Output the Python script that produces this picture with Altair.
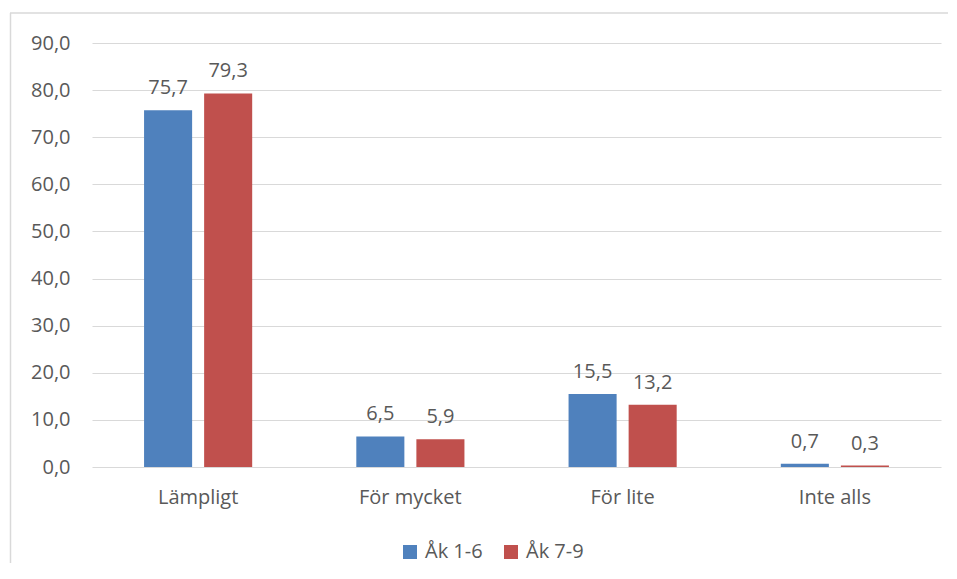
import altair as alt
import pandas as pd

categories = ["Lämpligt", "För mycket", "För lite", "Inte alls"]
series = ["Åk 1-6", "Åk 7-9"]
ak16 = [75.7, 6.5, 15.5, 0.7]
ak79 = [79.3, 5.9, 13.2, 0.3]
colors = ["#4F81BD", "#C0504D"]
y_ticks = [0, 10, 20, 30, 40, 50, 60, 70, 80, 90]

rows = []
for c, a, b in zip(categories, ak16, ak79):
    rows.append({"cat": c, "series": series[0], "value": a, "label": f"{a:.1f}".replace(".", ",")})
    rows.append({"cat": c, "series": series[1], "value": b, "label": f"{b:.1f}".replace(".", ",")})
df = pd.DataFrame(rows)

FONT = "Open Sans"
GRAY = "#595959"

x = alt.X("cat:N", sort=categories, title=None,
          scale=alt.Scale(paddingInner=0, paddingOuter=0),
          axis=alt.Axis(labelAngle=0, ticks=False, domain=False, labelPadding=20,
                        labelFontSize=20, labelFont=FONT, labelColor=GRAY))
xo = alt.XOffset("series:N", sort=series,
                 scale=alt.Scale(paddingInner=0.2, paddingOuter=0.8667))
y = alt.Y("value:Q", title=None,
          scale=alt.Scale(domain=[0, 90], nice=False),
          axis=alt.Axis(values=y_ticks, ticks=False, domain=False, labelPadding=22,
                        labelFontSize=20, labelFont=FONT, labelColor=GRAY,
                        gridColor="#d9d9d9", gridWidth=1,
                        labelExpr="replace(format(datum.value, '.1f'), '.', ',')"))
color = alt.Color("series:N", sort=series, title=None,
                  scale=alt.Scale(domain=series, range=colors),
                  legend=alt.Legend(orient="none", direction="horizontal", legendX=308, legendY=499,
                                    symbolType="square", symbolSize=196, symbolStrokeWidth=0,
                                    labelFontSize=20, labelFont=FONT, labelColor=GRAY,
                                    labelOffset=5, columnPadding=18, padding=0))

bars = alt.Chart(df).mark_bar().encode(x=x, xOffset=xo, y=y, color=color)
texts = alt.Chart(df).mark_text(baseline="bottom", dy=-12, fontSize=20, font=FONT, color=GRAY).encode(
    x=x, xOffset=xo, y=y, text="label:N")

frame = pd.DataFrame({"a": [0]})
border_left = alt.Chart(frame).mark_rule(color="#d9d9d9", strokeWidth=1.5).encode(
    x=alt.value(-81.5), y=alt.value(-30), y2=alt.value(560))
border_top = alt.Chart(frame).mark_rule(color="#d9d9d9", strokeWidth=1.5).encode(
    x=alt.value(-82), x2=alt.value(900), y=alt.value(-30))

chart = alt.layer(border_left, border_top, bars, texts).properties(
    width=849, height=424,
    autosize=alt.AutoSizeParams(type="none"),
    padding={"left": 84, "top": 35, "right": 7, "bottom": 96},
    background="white",
).configure_view(stroke=None)

chart.save("out.html", embed_options={"renderer": "svg", "actions": False})
